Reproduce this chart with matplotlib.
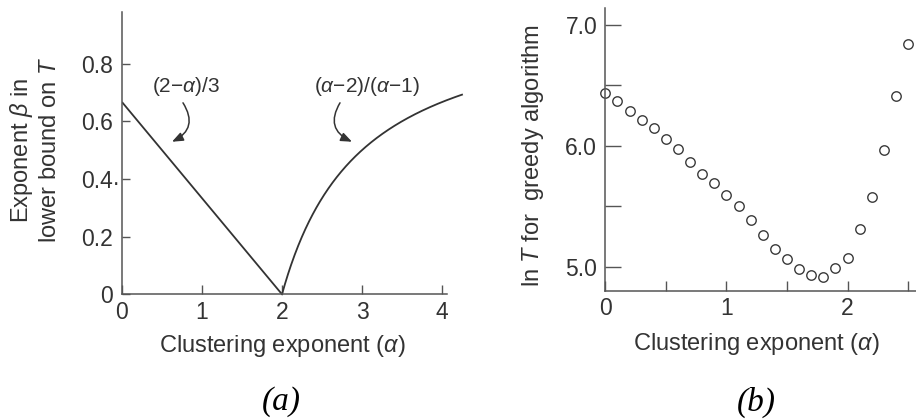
import numpy as np
import matplotlib
matplotlib.use("Agg")
import matplotlib.pyplot as plt
from matplotlib.patches import FancyArrowPatch

plt.rcParams["font.family"] = ["Liberation Sans", "DejaVu Sans"]
plt.rcParams["mathtext.fontset"] = "custom"
plt.rcParams["mathtext.rm"] = "Liberation Sans"
plt.rcParams["mathtext.it"] = "Liberation Sans:italic"
plt.rcParams["mathtext.bf"] = "Liberation Sans:bold"

INK = "#333333"
AXC = "#555555"

# ---- panel (a): lower-bound exponent vs clustering exponent ----
alpha_left = np.array([0.0, 2.0])
beta_left = (2 - alpha_left) / 3                      # (2-α)/3
alpha_right = np.linspace(2.0, 4.25, 300)
beta_right = (alpha_right - 2) / (alpha_right - 1)    # (α-2)/(α-1)

a_xticks = [0, 1, 2, 3, 4]
a_yticks = [0, 0.2, 0.4, 0.6, 0.8]
a_yticklabels = ["0", "0.2", "0.4", "0.6", "0.8"]

# ---- panel (b): greedy routing time vs clustering exponent ----
alpha_b = [0.0, 0.1, 0.2, 0.3, 0.4, 0.5, 0.6, 0.7, 0.8, 0.9, 1.0, 1.1, 1.2,
           1.3, 1.4, 1.5, 1.6, 1.7, 1.8, 1.9, 2.0, 2.1, 2.2, 2.3, 2.4, 2.5]
lnT_b = [6.434, 6.367, 6.285, 6.215, 6.144, 6.055, 5.972, 5.867, 5.768,
         5.696, 5.597, 5.506, 5.384, 5.265, 5.144, 5.061, 4.986, 4.936,
         4.917, 4.989, 5.075, 5.315, 5.577, 5.964, 6.414, 6.843]
b_xticks = [0, 0.5, 1, 1.5, 2, 2.5]
b_xticklabels = ["0", "", "1", "", "2", ""]
b_yticks = [5.0, 5.5, 6.0, 6.5, 7.0]
b_yticklabels = ["5.0", "", "6.0", "", "7.0"]

W, H = 916, 419
fig = plt.figure(figsize=(W / 100, H / 100), dpi=100)


def px_axes(left, top, right, bottom):
    return fig.add_axes([left / W, 1 - bottom / H, (right - left) / W, (bottom - top) / H])


TICK_FS = 16.5
LABEL_FS = 17

# panel (a)
axa = px_axes(122, 11.7, 462, 294.3)
axa.plot(alpha_left, beta_left, color=INK, lw=1.3, solid_capstyle="butt")
axa.plot(alpha_right, beta_right, color=INK, lw=1.3, clip_on=False)
axa.set_xlim(0, 4.25)
axa.set_ylim(0, 0.98)
for s in ("top", "right"):
    axa.spines[s].set_visible(False)
for s in ("left", "bottom"):
    axa.spines[s].set_color(AXC)
    axa.spines[s].set_linewidth(1.1)
axa.spines["bottom"].set_bounds(0, 4.06)
axa.set_xticks(a_xticks)
axa.set_xticklabels([str(v) for v in a_xticks])
axa.set_yticks(a_yticks)
axa.set_yticklabels(a_yticklabels)
axa.tick_params(axis="both", direction="in", color=AXC, width=1.0,
                labelsize=TICK_FS, labelcolor=INK)
axa.tick_params(axis="x", length=6.5, pad=5)
axa.tick_params(axis="y", length=5.8, pad=6.3)
axa.annotate(".", xy=(0, 0.4), xycoords=("axes fraction", "data"),
             xytext=(-6.3, 0), textcoords="offset points",
             ha="left", va="center", fontsize=TICK_FS, color=INK)

axa.text(0.80, 0.72, "(2\u2212$\\alpha$)/3", fontsize=15, color=INK,
         ha="center", va="center")
axa.text(3.06, 0.72, "($\\alpha$\u22122)/($\\alpha$\u22121)", fontsize=15, color=INK,
         ha="center", va="center")
arrow_kw = dict(arrowstyle="-|>,head_length=0.55,head_width=0.22", mutation_scale=12,
                color=INK, lw=1.1, shrinkA=0, shrinkB=0)
axa.add_patch(FancyArrowPatch((0.7625, 0.664), (0.625, 0.529),
                              connectionstyle="arc3,rad=-0.55", **arrow_kw))
axa.add_patch(FancyArrowPatch((2.725, 0.664), (2.875, 0.529),
                              connectionstyle="arc3,rad=0.55", **arrow_kw))

# panel (b)
axb = px_axes(605.3, 8, 916, 291)
axb.plot(alpha_b, lnT_b, linestyle="none", marker="o", markersize=6.8,
         markerfacecolor="white", markeredgecolor="#3a3a3a", markeredgewidth=1.0,
         clip_on=False)
axb.set_xlim(0, 2.565)
axb.set_ylim(4.80, 7.14)
for s in ("top", "right"):
    axb.spines[s].set_visible(False)
for s in ("left", "bottom"):
    axb.spines[s].set_color(AXC)
    axb.spines[s].set_linewidth(1.1)
axb.set_xticks(b_xticks)
axb.set_xticklabels(b_xticklabels)
axb.set_yticks(b_yticks)
axb.set_yticklabels(b_yticklabels)
axb.tick_params(axis="both", direction="in", color=AXC, width=1.0,
                labelsize=TICK_FS, labelcolor=INK)
axb.tick_params(axis="x", length=7.2, pad=4.3)
axb.tick_params(axis="y", length=11.5, pad=5.8)

# axis labels
fig.text(282.5 / W, 1 - 351.7 / H, "Clustering exponent ($\\alpha$)", fontsize=LABEL_FS,
         color=INK, ha="center", va="baseline")
fig.text(756.5 / W, 1 - 350 / H, "Clustering exponent ($\\alpha$)", fontsize=LABEL_FS,
         color=INK, ha="center", va="baseline")
fig.text(22 / W, 1 - 150 / H, "Exponent $\\beta$ in", fontsize=LABEL_FS, color=INK,
         rotation=90, ha="center", va="center")
fig.text(50 / W, 1 - 150 / H, "lower bound on $T$", fontsize=LABEL_FS, color=INK,
         rotation=90, ha="center", va="center")
fig.text(533 / W, 1 - 155 / H, "ln $T$ for  greedy algorithm", fontsize=LABEL_FS,
         color=INK, rotation=90, ha="center", va="center")

# panel captions
fig.text(281 / W, 1 - 402 / H, "(a)", fontsize=24, family="Liberation Serif",
         style="italic", color="black", ha="center", va="center")
fig.text(756 / W, 1 - 402 / H, "(b)", fontsize=24, family="Liberation Serif",
         style="italic", color="black", ha="center", va="center")

fig.savefig("out.png", dpi=100)
